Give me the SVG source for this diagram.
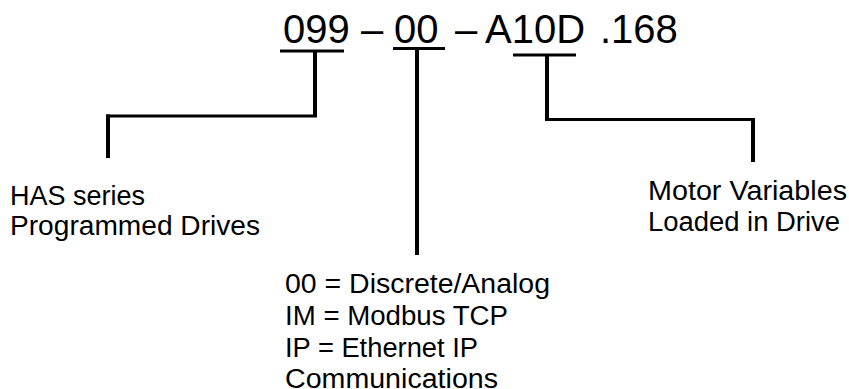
<svg xmlns="http://www.w3.org/2000/svg" width="849" height="389" viewBox="0 0 849 389">
  <style>
    .code { font-family: "Liberation Sans", Arial, Helvetica, sans-serif; font-size: 40px; fill: #000; }
    .lbl { font-family: "Liberation Sans", Arial, Helvetica, sans-serif; font-size: 27px; fill: #000; }
    .ul { stroke: #000; stroke-width: 3; fill: none; }
    .conn { stroke: #000; fill: none; stroke-linecap: butt; stroke-linejoin: miter; }
    .h { stroke-width: 3; }
    .v { stroke-width: 4; }
  </style>
  <rect width="849" height="389" fill="#fff"/>

  <g id="part-number">
    <text class="code" y="42.5"><tspan x="283">099</tspan><tspan x="361">–</tspan><tspan x="394">00</tspan><tspan x="455">–</tspan><tspan x="485">A10D</tspan><tspan x="600">.168</tspan></text>
    <line class="ul" x1="280" y1="51" x2="344" y2="51"/>
    <line class="ul" x1="393" y1="48.5" x2="445" y2="48.5"/>
    <line class="ul" x1="513" y1="55" x2="576" y2="55"/>
  </g>

  <g id="connectors">
    <line class="conn v" x1="315" y1="51" x2="315" y2="117"/>
    <line class="conn h" x1="106" y1="116" x2="317" y2="116"/>
    <line class="conn v" x1="108" y1="114.5" x2="108" y2="158"/>

    <line class="conn v" x1="417" y1="49" x2="417" y2="255"/>

    <line class="conn v" x1="547" y1="55" x2="547" y2="121"/>
    <line class="conn h" x1="545" y1="119.5" x2="755" y2="119.5"/>
    <line class="conn v" x1="753" y1="118" x2="753" y2="162"/>
  </g>

  <g id="series-label">
    <text class="lbl" x="10" y="205" textLength="135" lengthAdjust="spacingAndGlyphs">HAS series</text>
    <text class="lbl" x="10" y="235" textLength="250" lengthAdjust="spacingAndGlyphs">Programmed Drives</text>
  </g>

  <g id="comm-label">
    <text class="lbl" x="285" y="293" textLength="265" lengthAdjust="spacingAndGlyphs">00 = Discrete/Analog</text>
    <text class="lbl" x="285" y="324.5" textLength="223" lengthAdjust="spacingAndGlyphs">IM = Modbus TCP</text>
    <text class="lbl" x="285" y="356.5" textLength="193" lengthAdjust="spacingAndGlyphs">IP = Ethernet IP</text>
    <text class="lbl" x="285" y="388" textLength="213" lengthAdjust="spacingAndGlyphs">Communications</text>
  </g>

  <g id="motor-label">
    <text class="lbl" x="648" y="200" textLength="199" lengthAdjust="spacingAndGlyphs">Motor Variables</text>
    <text class="lbl" x="648" y="231" textLength="192" lengthAdjust="spacingAndGlyphs">Loaded in Drive</text>
  </g>
</svg>
